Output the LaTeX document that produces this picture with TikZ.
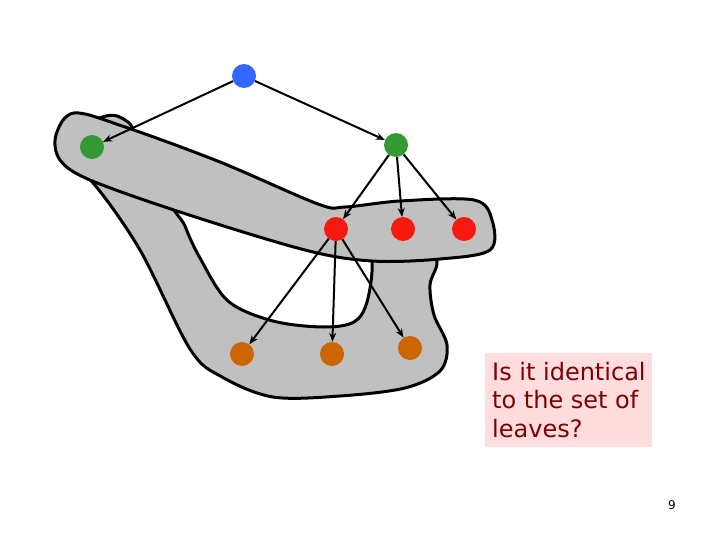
\documentclass[tikz,border=0pt]{standalone}
\usepackage{fontspec}
\newfontfamily\notefont{DejaVu Sans}
\usetikzlibrary{arrows.meta}
\definecolor{blobgray}{RGB}{192,192,192}
\definecolor{rootblue}{RGB}{51,102,255}
\definecolor{kidgreen}{RGB}{51,153,51}
\definecolor{leafred}{RGB}{245,25,15}
\definecolor{lowbrown}{RGB}{204,102,0}
\definecolor{notepink}{RGB}{255,220,222}
\definecolor{notetext}{RGB}{128,0,0}
\tikzset{
  vertex/.style={circle,inner sep=0pt,minimum size=24pt},
  edge/.style={line width=2pt,-{Stealth[length=9pt,width=7pt]}},
  blob/.style={fill=blobgray,draw=black,line width=3pt,line join=round}
}

\begin{document}
\begin{tikzpicture}[x=1pt,y=-1pt]
\useasboundingbox (0,0) rectangle (720,540);

% U-shaped set through the lower vertices
\path[blob,even odd rule]
  plot[smooth cycle,tension=0.55] coordinates {
    (106,116) (128,122) (150,145) (260,190) (372,228) (425,242) (437,262)
    (430,285) (434,315) (447,345) (440,371) (405,388) (340,396)
    (273,397) (222,377) (190,349) (140,250) (94,184) (67,164) (62,138)}
  plot[smooth cycle,tension=0.55] coordinates {
    (178,200) (185,226) (200,258) (228,301) (273,321) (323,327) (354,322)
    (367,302) (372,262) (360,236) (290,215)};

% Elongated set through the middle vertices
\path[blob]
  plot[smooth cycle,tension=0.55] coordinates {
    (74,113) (125,127) (220,162) (318,204) (345,207) (400,201)
    (474,200) (492,220) (490,250) (440,259) (372,261) (305,250)
    (183,213) (90,180) (60,160) (56,135)};

% Vertices
\node[vertex,fill=rootblue] (root) at (244,76) {};
\node[vertex,fill=kidgreen] (gl) at (92,147) {};
\node[vertex,fill=kidgreen] (gr) at (396,145) {};
\node[vertex,fill=leafred] (r1) at (336,229) {};
\node[vertex,fill=leafred] (r2) at (403,229) {};
\node[vertex,fill=leafred] (r3) at (464,229) {};
\node[vertex,fill=lowbrown] (o1) at (242,354) {};
\node[vertex,fill=lowbrown] (o2) at (332,354) {};
\node[vertex,fill=lowbrown] (o3) at (410,348) {};

% Edges
\draw[edge] (root) -- (gl);
\draw[edge] (root) -- (gr);
\foreach \t in {r1,r2,r3}
  \draw[edge] (gr) -- (\t);
\foreach \t in {o1,o2,o3}
  \draw[edge] (r1) -- (\t);

% Question box and page number
\fill[notepink] (485,353) rectangle (652,447);
\node[anchor=north west,align=left,inner sep=0pt,text=notetext,
  font=\notefont\fontsize{24}{28.5}\selectfont] (note) at (492,362)
  {Is it identical\\to the set of\\leaves?};
\node[font=\notefont\fontsize{12}{14}\selectfont] (page) at (672,505) {9};
\end{tikzpicture}
\end{document}
